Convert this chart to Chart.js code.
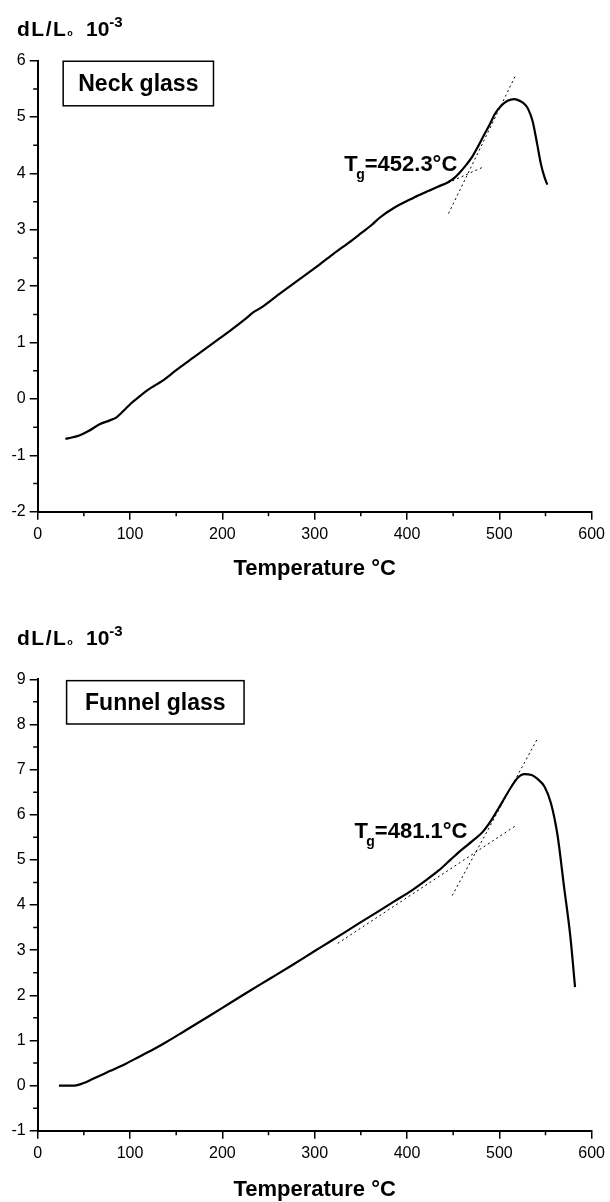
<!DOCTYPE html>
<html>
<head>
<meta charset="utf-8">
<script src="https://cdn.jsdelivr.net/npm/chart.js@4.4.0/dist/chart.umd.min.js"></script>
<style>
body { margin: 0; background: #fff; }
canvas { display: block; }
</style>
</head>
<body>
<canvas id="neck_chart" width="610" height="600" style="width:610px;height:600px"></canvas>
<canvas id="funnel_chart" width="610" height="602" style="width:610px;height:602px"></canvas>
<script>
// neck glass dilatometer curve
const neck_temp = [30, 38, 45, 55, 67, 78, 85, 93, 101, 110, 117.5, 126, 135, 150, 170, 190, 210, 225, 233, 242, 260, 280, 300, 320, 340, 351, 362, 370, 387, 401, 412, 423, 434, 444, 452, 459, 465, 470, 477, 484, 490, 495, 502, 509, 516, 523, 528, 531, 536, 541, 545, 549, 552];
const neck_dl = [-0.71, -0.68, -0.65, -0.57, -0.45, -0.38, -0.33, -0.21, -0.08, 0.04, 0.14, 0.23, 0.32, 0.51, 0.75, 0.99, 1.23, 1.42, 1.53, 1.62, 1.84, 2.08, 2.32, 2.57, 2.81, 2.95, 3.09, 3.21, 3.40, 3.52, 3.61, 3.69, 3.77, 3.84, 3.93, 4.05, 4.17, 4.28, 4.48, 4.70, 4.88, 5.05, 5.20, 5.29, 5.32, 5.28, 5.22, 5.15, 4.93, 4.52, 4.17, 3.93, 3.80];
const neck_tan1_temp = [395, 482];
const neck_tan1_dl = [3.47, 4.11];
const neck_tan2_temp = [445, 517];
const neck_tan2_dl = [3.29, 5.72];

// funnel glass dilatometer curve
const funnel_temp = [23, 32, 40, 49, 60, 78, 95, 110, 125, 139, 160, 180, 200, 225, 250, 275, 300, 315, 333, 350, 369, 387, 405, 420, 434, 447, 459, 471, 482, 491, 502, 513, 520, 527, 535, 541, 549, 556, 563, 570, 577, 582];
const funnel_dl = [0.0, 0.0, 0.0, 0.05, 0.15, 0.32, 0.48, 0.64, 0.80, 0.96, 1.22, 1.47, 1.72, 2.04, 2.35, 2.66, 2.98, 3.17, 3.40, 3.62, 3.86, 4.09, 4.32, 4.54, 4.76, 5.00, 5.22, 5.42, 5.62, 5.87, 6.24, 6.62, 6.82, 6.90, 6.88, 6.80, 6.62, 6.25, 5.55, 4.42, 3.29, 2.18];
const funnel_tan1_temp = [325, 518];
const funnel_tan1_dl = [3.15, 5.76];
const funnel_tan2_temp = [449, 542];
const funnel_tan2_dl = [4.21, 7.71];

const x_ticks = [0, 100, 200, 300, 400, 500, 600];

const fam = "'Liberation Sans', Arial, sans-serif";
Chart.defaults.font.family = fam;
Chart.defaults.color = '#000';

function to_points(xs, ys) {
    return xs.map((x, i) => ({x: x, y: ys[i]}));
}

function make_decor(info) {
    return {
        id: 'decor_' + info.id,
        afterDraw(chart) {
            const ctx = chart.ctx;
            const xs = chart.scales.x;
            const ys = chart.scales.y;
            const area = chart.chartArea;
            ctx.save();
            ctx.strokeStyle = '#000';
            ctx.lineWidth = 1.5;
            // minor ticks
            ctx.beginPath();
            for (let v = 50; v < 600; v += 100) {
                let p = xs.getPixelForValue(v);
                ctx.moveTo(p, area.bottom);
                ctx.lineTo(p, area.bottom + 4.5);
            }
            for (let v = ys.min + 0.5; v < ys.max; v += 1) {
                let p = ys.getPixelForValue(v);
                ctx.moveTo(area.left - 4.5, p);
                ctx.lineTo(area.left, p);
            }
            ctx.stroke();

            ctx.fillStyle = '#000';
            ctx.textAlign = 'left';
            ctx.textBaseline = 'alphabetic';

            // y axis title  dL/Lo 10^-3
            let bx = 17;
            let by = area.top - info.title_dy;
            ctx.font = 'bold 21px ' + fam;
            ctx.letterSpacing = '1.5px';
            ctx.fillText('dL/L', bx, by);
            bx += ctx.measureText('dL/L').width;
            ctx.letterSpacing = '0px';
            ctx.font = 'bold 9px ' + fam;
            ctx.fillText('o', bx, by);
            bx = 86;
            ctx.font = 'bold 21px ' + fam;
            ctx.fillText('10', bx, by);
            bx += ctx.measureText('10').width;
            ctx.font = 'bold 15px ' + fam;
            ctx.fillText('-3', bx, by - 9);

            // sample box
            let x0 = xs.getPixelForValue(info.box_x[0]);
            let x1 = xs.getPixelForValue(info.box_x[1]);
            let y0 = ys.getPixelForValue(info.box_y[0]);
            let y1 = ys.getPixelForValue(info.box_y[1]);
            ctx.lineWidth = 1.5;
            ctx.strokeRect(x0, y0, x1 - x0, y1 - y0);
            ctx.font = 'bold 23px ' + fam;
            ctx.textAlign = 'center';
            ctx.textBaseline = 'middle';
            ctx.fillText(info.label, (x0 + x1) / 2, (y0 + y1) / 2 + 1);

            // Tg label
            ctx.textAlign = 'left';
            ctx.textBaseline = 'alphabetic';
            let tx = xs.getPixelForValue(info.tg_x);
            let ty = ys.getPixelForValue(info.tg_y);
            ctx.font = 'bold 22px ' + fam;
            ctx.fillText('T', tx, ty);
            tx += ctx.measureText('T').width - 1.5;
            ctx.font = 'bold 14px ' + fam;
            ctx.fillText('g', tx, ty + 8);
            tx += ctx.measureText('g').width;
            ctx.font = 'bold 22px ' + fam;
            ctx.fillText(info.tg_text, tx, ty);
            ctx.restore();
        }
    };
}

function make_chart(id, cfg) {
    let curve = {
        data: to_points(cfg.temp, cfg.dl),
        showLine: true,
        borderColor: '#000',
        borderWidth: 2.2,
        pointRadius: 0,
        cubicInterpolationMode: 'monotone'
    };
    let tan1 = {
        data: to_points(cfg.tan1_temp, cfg.tan1_dl),
        showLine: true,
        borderColor: '#000',
        borderWidth: 1,
        borderDash: [2, 3],
        pointRadius: 0
    };
    let tan2 = Object.assign({}, tan1, {data: to_points(cfg.tan2_temp, cfg.tan2_dl)});
    return new Chart(document.getElementById(id), {
        type: 'scatter',
        data: {datasets: [curve, tan1, tan2]},
        options: {
            responsive: false,
            animation: false,
            events: [],
            layout: {padding: {top: cfg.pad_top, right: 15.7, left: 0, bottom: 0}},
            plugins: {legend: {display: false}, tooltip: {enabled: false}},
            scales: {
                x: {
                    type: 'linear',
                    min: x_ticks[0],
                    max: x_ticks[x_ticks.length - 1],
                    afterBuildTicks: (s) => { s.ticks = x_ticks.map(v => ({value: v})); },
                    afterFit: (s) => { s.height = cfg.x_height; },
                    ticks: {font: {size: 16}, color: '#000', padding: 5},
                    grid: {drawOnChartArea: false, tickLength: 8, color: '#000', lineWidth: 1.5},
                    border: {color: '#000', width: 2},
                    title: {
                        display: true,
                        text: 'Temperature °C',
                        font: {size: 22, weight: 'bold', lineHeight: 1.1},
                        color: '#000',
                        padding: {top: 0, bottom: cfg.title_pad}
                    }
                },
                y: {
                    type: 'linear',
                    min: cfg.y_min,
                    max: cfg.y_max,
                    afterFit: (s) => { s.width = 37.7; },
                    ticks: {stepSize: 1, font: {size: 16}, color: '#000', padding: 4},
                    grid: {drawOnChartArea: false, tickLength: 8, color: '#000', lineWidth: 1.5},
                    border: {color: '#000', width: 2}
                }
            }
        },
        plugins: [make_decor(cfg.decor)]
    });
}

make_chart('neck_chart', {
    temp: neck_temp, dl: neck_dl,
    tan1_temp: neck_tan1_temp, tan1_dl: neck_tan1_dl,
    tan2_temp: neck_tan2_temp, tan2_dl: neck_tan2_dl,
    y_min: -2, y_max: 6,
    pad_top: 60.7, x_height: 88.3, title_pad: 19,
    decor: {id: 'neck', title_dy: 25, label: 'Neck glass', box_x: [27.6, 190.4], box_y: [5.99, 5.2],
            tg_x: 332, tg_y: 4.05, tg_text: '=452.3°C'}
});

make_chart('funnel_chart', {
    temp: funnel_temp, dl: funnel_dl,
    tan1_temp: funnel_tan1_temp, tan1_dl: funnel_tan1_dl,
    tan2_temp: funnel_tan2_temp, tan2_dl: funnel_tan2_dl,
    y_min: -1, y_max: 9,
    pad_top: 79.3, x_height: 71.3, title_pad: 0,
    decor: {id: 'funnel', title_dy: 34, label: 'Funnel glass', box_x: [31.3, 223.5], box_y: [8.97, 8.01],
            tg_x: 343, tg_y: 5.49, tg_text: '=481.1°C'}
});
</script>
</body>
</html>
